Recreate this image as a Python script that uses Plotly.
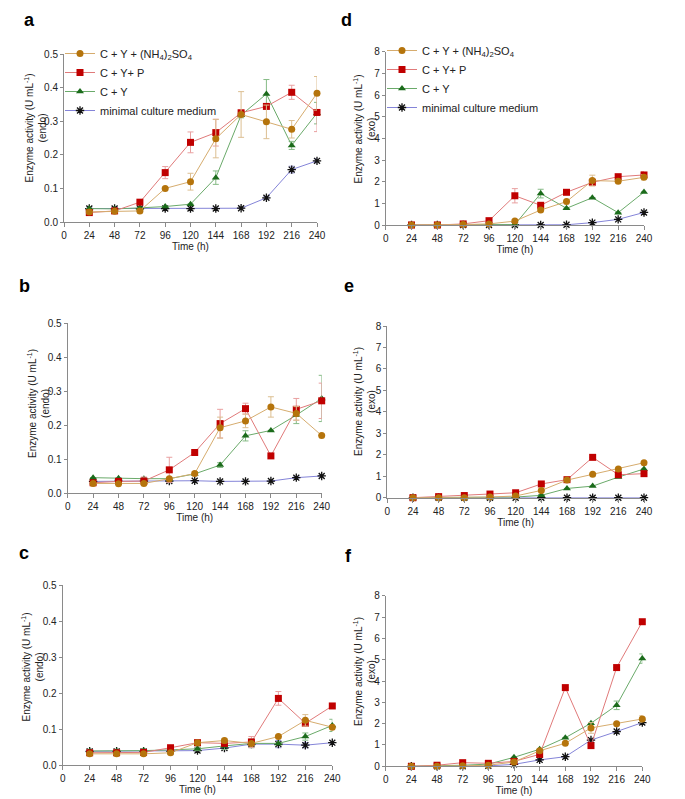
import plotly.graph_objects as go

# ---------------- data ----------------
hours = [24, 48, 72, 96, 120, 144, 168, 192, 216, 240]
x_ticks = [0, 24, 48, 72, 96, 120, 144, 168, 192, 216, 240]
series_names = ["C + Y + (NH<sub>4</sub>)<sub>2</sub>SO<sub>4</sub>", "C + Y+ P", "C + Y", "minimal culture medium"]

# panel a (endo)
a_nh4 = [0.030, 0.032, 0.033, 0.100, 0.120, 0.248, 0.320, 0.298, 0.276, 0.383]
a_nh4_err = [None, None, None, None, 0.025, 0.057, 0.068, 0.050, 0.026, 0.050]
a_p = [0.028, 0.033, 0.059, 0.147, 0.237, 0.266, 0.325, 0.344, 0.386, 0.326]
a_p_err = [None, None, None, 0.018, 0.031, 0.040, 0.008, None, 0.021, 0.057]
a_cy = [0.040, 0.039, 0.042, 0.046, 0.053, 0.132, 0.318, 0.381, 0.228, 0.324]
a_cy_err = [None, None, None, None, None, 0.020, 0.008, 0.043, 0.012, 0.032]
a_min = [0.040, 0.040, 0.040, 0.040, 0.040, 0.040, 0.041, 0.072, 0.156, 0.182]
a_min_err = [0.004, 0.004, 0.004, None, None, None, None, 0.004, 0.010, 0.006]

# panel b (endo)
b_nh4 = [0.029, 0.028, 0.029, 0.043, 0.058, 0.193, 0.213, 0.254, 0.235, 0.170]
b_nh4_err = [None, None, None, None, 0.006, 0.031, 0.020, 0.030, 0.020, None]
b_p = [0.031, 0.035, 0.036, 0.069, 0.120, 0.205, 0.249, 0.110, 0.247, 0.272]
b_p_err = [None, None, 0.012, 0.037, None, 0.042, 0.016, None, 0.032, 0.052]
b_cy = [0.046, 0.044, 0.043, 0.043, 0.057, 0.083, 0.169, 0.185, 0.230, 0.279]
b_cy_err = [None, None, None, None, None, 0.007, 0.015, None, 0.025, 0.068]
b_min = [0.035, 0.036, 0.036, 0.036, 0.037, 0.035, 0.035, 0.036, 0.046, 0.051]
b_min_err = [None, None, None, 0.004, None, None, None, None, 0.003, 0.003]

# panel c (endo)
c_nh4 = [0.031, 0.031, 0.031, 0.034, 0.062, 0.068, 0.060, 0.079, 0.124, 0.105]
c_nh4_err = [None, None, None, None, None, 0.006, None, None, 0.016, None]
c_p = [0.034, 0.034, 0.035, 0.048, 0.062, 0.060, 0.064, 0.185, 0.116, 0.164]
c_p_err = [None, None, None, None, None, None, 0.015, 0.019, None, None]
c_cy = [0.039, 0.039, 0.040, 0.042, 0.045, 0.053, 0.060, 0.060, 0.079, 0.110]
c_cy_err = [0.004, 0.004, 0.004, None, 0.005, 0.010, 0.012, None, 0.010, 0.017]
c_min = [0.038, 0.038, 0.038, 0.038, 0.040, 0.047, 0.058, 0.058, 0.055, 0.062]
c_min_err = [None, None, None, None, None, None, None, 0.010, 0.007, None]

# panel d (exo)
d_nh4 = [0.0, 0.0, 0.02, 0.05, 0.18, 0.69, 1.08, 2.05, 2.02, 2.20]
d_nh4_err = [None, None, None, None, None, None, None, 0.25, None, 0.12]
d_p = [0.0, 0.0, 0.05, 0.20, 1.35, 0.91, 1.51, 1.97, 2.23, 2.31]
d_p_err = [None, None, None, None, 0.33, None, None, None, None, 0.15]
d_cy = [0.0, 0.0, 0.02, 0.03, 0.02, 1.45, 0.77, 1.26, 0.57, 1.52]
d_cy_err = [None, None, None, None, None, 0.20, None, None, None, None]
d_min = [0.0, 0.0, 0.0, 0.0, 0.0, 0.0, 0.01, 0.11, 0.26, 0.58]
d_min_err = [None] * 10

# panel e (exo)
e_nh4 = [0.0, 0.0, 0.0, 0.03, 0.08, 0.34, 0.82, 1.09, 1.34, 1.63]
e_nh4_err = [None] * 10
e_p = [0.0, 0.05, 0.10, 0.17, 0.23, 0.64, 0.84, 1.88, 1.07, 1.12]
e_p_err = [None] * 10
e_cy = [0.0, 0.0, 0.0, 0.0, 0.03, 0.11, 0.43, 0.54, 0.96, 1.34]
e_cy_err = [None] * 10
e_min = [0.0, 0.0, 0.0, 0.0, 0.0, 0.0, 0.0, 0.0, 0.0, 0.0]
e_min_err = [None] * 10

# panel f (exo)
f_nh4 = [0.0, 0.0, 0.02, 0.05, 0.20, 0.73, 1.08, 1.80, 2.00, 2.22]
f_nh4_err = [None, None, None, None, None, None, None, 0.25, None, 0.15]
f_p = [0.0, 0.05, 0.17, 0.14, 0.23, 0.56, 3.69, 0.97, 4.63, 6.78]
f_p_err = [None] * 10
f_cy = [0.0, 0.02, 0.05, 0.10, 0.42, 0.80, 1.34, 2.02, 2.86, 5.05]
f_cy_err = [None, None, None, None, None, None, None, None, 0.20, 0.22]
f_min = [0.0, 0.0, 0.0, 0.02, 0.09, 0.30, 0.45, 1.23, 1.63, 2.05]
f_min_err = [None] * 10

# ---------------- styles ----------------
OFF = 8                      # page body margin of the html page
W, H = 685 - OFF, 799 - OFF  # figure size so the page fits the window
FONT = "Liberation Sans, Arial, sans-serif"
AX = "#8a8a8a"
TXT = "#222222"


def px(x):
    return (x - OFF) / W


def py(y):
    return 1 - (y - OFF) / H


styles = {
    "nh4": dict(mc="#b5740c", lc="#d6ac6e", ec="#dcbf92", sym="circle", size=7),
    "p": dict(mc="#c00000", lc="#e07a7a", ec="#e9a0a0", sym="square", size=7),
    "cy": dict(mc="#1b6b1b", lc="#6aaa6a", ec="#86bb86", sym="triangle-up", size=7),
    "min": dict(mc="#111111", lc="#8484d8", ec="#a0a0e0", sym="asterisk-open", size=7),
}

# panels: label, axis idx, window px box [x0, x1, ytop, ybottom], ymax, dtick, kind, data,
#         label position (x, y-anchor), y-title pos
panels = [
    ("a", 1, [64, 317, 54, 222], 0.5, 0.1, "endo", (a_nh4, a_nh4_err, a_p, a_p_err, a_cy, a_cy_err, a_min, a_min_err), (29, 8, "top"), (35.5, 128)),
    ("b", 2, [67.7, 321.7, 323.3, 493.3], 0.5, 0.1, "endo", (b_nh4, b_nh4_err, b_p, b_p_err, b_cy, b_cy_err, b_min, b_min_err), (24, 286, "middle"), (38, 404)),
    ("c", 3, [62.7, 332.3, 585, 765], 0.5, 0.1, "endo", (c_nh4, c_nh4_err, c_p, c_p_err, c_cy, c_cy_err, c_min, c_min_err), (24, 553, "middle"), (31.5, 667)),
    ("d", 4, [385.7, 644, 51.7, 225], 8, 1, "exo", (d_nh4, d_nh4_err, d_p, d_p_err, d_cy, d_cy_err, d_min, d_min_err), (346, 8, "top"), (363.5, 129)),
    ("e", 5, [387.3, 644, 326, 497.7], 8, 1, "exo", (e_nh4, e_nh4_err, e_p, e_p_err, e_cy, e_cy_err, e_min, e_min_err), (349, 286, "middle"), (364, 402)),
    ("f", 6, [385.7, 642.3, 595.7, 766.3], 8, 1, "exo", (f_nh4, f_nh4_err, f_p, f_p_err, f_cy, f_cy_err, f_min, f_min_err), (348, 556, "middle"), (364, 672)),
]

fig = go.Figure()
layout = dict(
    width=W, height=H, margin=dict(l=0, r=0, t=0, b=0, autoexpand=False),
    paper_bgcolor="white", plot_bgcolor="white",
    font=dict(family=FONT, size=10, color=TXT),
    showlegend=True,
)
annotations = []

for label, idx, box, ymax, dtick, kind, data, lab_pos, yt_pos in panels:
    x0, x1, yt, yb = box
    xs = "x" if idx == 1 else f"x{idx}"
    ys = "y" if idx == 1 else f"y{idx}"
    nh4, nh4_e, p, p_e, cy, cy_e, mn, mn_e = data
    series = [("min", mn, mn_e, 3), ("cy", cy, cy_e, 2), ("p", p, p_e, 1), ("nh4", nh4, nh4_e, 0)]
    for key, vals, errs, ni in series:
        st = styles[key]
        leg = None
        show = False
        if label == "a":
            show, leg = True, "legend"
        elif label == "d":
            show, leg = True, "legend2"
        tr = go.Scatter(
            x=hours, y=vals, mode="lines+markers", name=series_names[ni],
            xaxis=xs, yaxis=ys, showlegend=show, cliponaxis=False,
            line=dict(color=st["lc"], width=1),
            marker=dict(color=st["mc"], symbol=st["sym"], size=st["size"],
                        line=dict(color=st["mc"], width=1.3 if key == "min" else 0)),
            error_y=dict(type="data", array=errs, visible=True, color=st["ec"], thickness=1, width=3),
        )
        if leg:
            tr.legend = leg
        fig.add_trace(tr)

    xa = "xaxis" if idx == 1 else f"xaxis{idx}"
    ya = "yaxis" if idx == 1 else f"yaxis{idx}"
    layout[xa] = dict(
        domain=[px(x0), px(x1)], anchor=ys, range=[0, 240],
        tickvals=x_ticks, ticks="outside", ticklen=4, tickcolor=AX, tickwidth=1,
        showline=True, linecolor=AX, linewidth=1, showgrid=False, zeroline=False,
        tickfont=dict(size=10, color=TXT),
        title=dict(text="Time (h)", font=dict(size=10, color=TXT), standoff=0),
    )
    layout[ya] = dict(
        domain=[py(yb), py(yt)], anchor=xs, range=[0, ymax],
        dtick=dtick, tick0=0, tickformat=".1f" if ymax < 1 else "d",
        ticks="outside", ticklen=3, tickcolor=AX, tickwidth=1,
        showline=True, linecolor=AX, linewidth=1, showgrid=False, zeroline=False,
        tickfont=dict(size=10, color=TXT),
    )
    annotations.append(dict(
        text=f"<b>{label}</b>", x=px(lab_pos[0]), y=py(lab_pos[1]), xref="paper", yref="paper",
        showarrow=False, xanchor="center", yanchor=lab_pos[2],
        font=dict(size=18, color="#000000", family=FONT),
    ))
    annotations.append(dict(
        text=f"Enzyme activity (U mL<sup>-1</sup>)<br>({kind})", textangle=-90,
        x=px(yt_pos[0]), y=py(yt_pos[1]), xref="paper", yref="paper",
        showarrow=False, xanchor="center", yanchor="middle",
        font=dict(size=10, color=TXT, family=FONT),
    ))

layout["annotations"] = annotations
layout["legend"] = dict(x=px(60), y=py(39), xanchor="left", yanchor="top",
                        traceorder="reversed", font=dict(size=11, color=TXT),
                        bgcolor="rgba(0,0,0,0)", itemwidth=30, tracegroupgap=0)
layout["legend2"] = dict(x=px(382), y=py(36), xanchor="left", yanchor="top",
                         traceorder="reversed", font=dict(size=11, color=TXT),
                         bgcolor="rgba(0,0,0,0)", itemwidth=30, tracegroupgap=0)
fig.update_layout(**layout)
fig.write_html("out.html")
